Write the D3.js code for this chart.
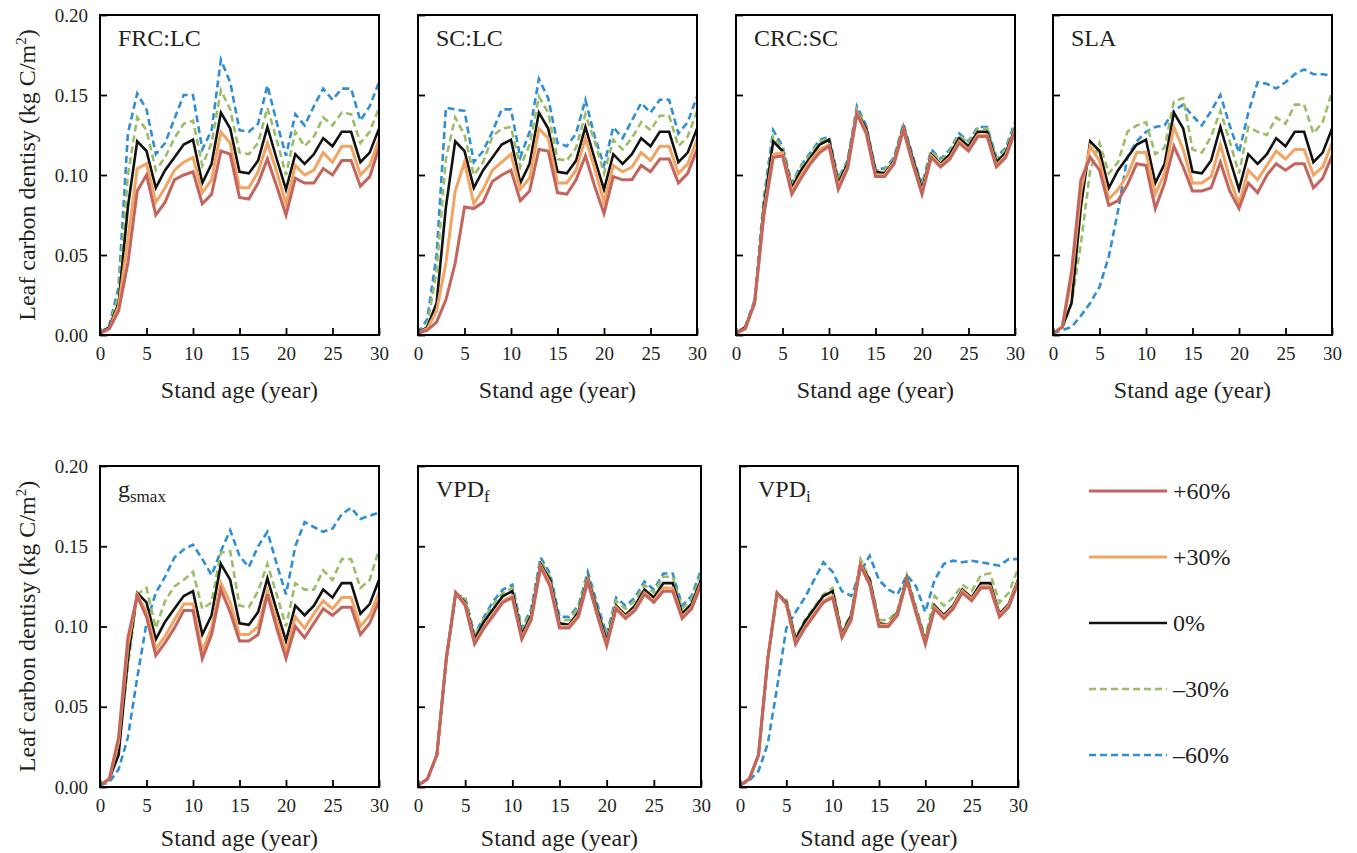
<!DOCTYPE html>
<html>
<head>
<meta charset="utf-8">
<script src="https://cdn.jsdelivr.net/npm/d3@7"></script>
<style>
  body { margin: 0; background: #fff; }
  svg { display: block; }
  text { font-family: "Liberation Serif", "Times New Roman", serif; fill: #231f20; }
</style>
</head>
<body>
<svg id="chart"></svg>
<script>
// Stand age (years 0..30)
const years = d3.range(0, 31);
const seriesLabels = ["+60%", "+30%", "0%", "\u201330%", "\u201360%"];
const yTicks = [0, 0.05, 0.10, 0.15, 0.20];
const xTicks = [0, 5, 10, 15, 20, 25, 30];

// 0% (baseline) run, shared by all panels
const base0 = [0.001,0.005,0.020,0.080,0.121,0.115,0.092,0.103,0.111,0.119,0.122,0.095,0.107,0.139,0.129,0.102,0.101,0.109,0.130,0.110,0.091,0.113,0.107,0.113,0.123,0.118,0.127,0.127,0.108,0.114,0.129];

// FRC:LC
const frcP60 = [0.001,0.004,0.015,0.045,0.090,0.100,0.075,0.083,0.097,0.100,0.102,0.082,0.088,0.115,0.113,0.086,0.085,0.095,0.110,0.093,0.075,0.098,0.095,0.095,0.104,0.100,0.109,0.109,0.093,0.099,0.117];
const frcP30 = [0.001,0.004,0.018,0.060,0.104,0.107,0.083,0.092,0.103,0.108,0.111,0.089,0.097,0.127,0.120,0.092,0.092,0.102,0.120,0.102,0.082,0.106,0.100,0.103,0.114,0.108,0.118,0.118,0.100,0.106,0.122];
const frcM30 = [0.001,0.005,0.025,0.100,0.136,0.128,0.103,0.111,0.123,0.132,0.134,0.106,0.120,0.153,0.141,0.114,0.113,0.120,0.142,0.122,0.100,0.127,0.118,0.124,0.136,0.131,0.139,0.138,0.120,0.127,0.142];
const frcM60 = [0.001,0.006,0.030,0.126,0.151,0.141,0.113,0.120,0.135,0.150,0.150,0.116,0.128,0.172,0.158,0.128,0.127,0.132,0.156,0.133,0.112,0.138,0.131,0.143,0.154,0.147,0.154,0.154,0.134,0.143,0.158];

// SC:LC
const scP60 = [0.001,0.003,0.008,0.022,0.045,0.080,0.079,0.083,0.096,0.100,0.103,0.084,0.090,0.116,0.115,0.089,0.088,0.097,0.112,0.093,0.076,0.099,0.097,0.097,0.106,0.102,0.110,0.110,0.095,0.101,0.116];
const scP30 = [0.001,0.004,0.015,0.045,0.090,0.108,0.082,0.091,0.103,0.108,0.113,0.091,0.098,0.129,0.123,0.095,0.095,0.103,0.123,0.104,0.083,0.106,0.102,0.105,0.114,0.109,0.118,0.118,0.101,0.107,0.122];
const scM30 = [0.001,0.006,0.040,0.110,0.136,0.125,0.100,0.108,0.124,0.129,0.130,0.105,0.119,0.149,0.139,0.110,0.109,0.117,0.138,0.121,0.101,0.122,0.116,0.123,0.133,0.128,0.137,0.137,0.118,0.124,0.140];
const scM60 = [0.001,0.010,0.050,0.142,0.141,0.140,0.108,0.115,0.127,0.141,0.141,0.111,0.127,0.160,0.148,0.120,0.118,0.126,0.147,0.124,0.106,0.130,0.123,0.134,0.145,0.139,0.147,0.147,0.126,0.133,0.149];

// CRC:SC
const crcP60 = [0.001,0.004,0.020,0.075,0.111,0.112,0.088,0.098,0.107,0.114,0.118,0.091,0.104,0.138,0.126,0.099,0.099,0.107,0.128,0.107,0.088,0.111,0.105,0.110,0.120,0.115,0.124,0.124,0.105,0.111,0.127];
const crcP30 = [0.001,0.004,0.020,0.077,0.113,0.114,0.090,0.100,0.109,0.116,0.119,0.093,0.105,0.139,0.127,0.100,0.100,0.108,0.129,0.108,0.089,0.112,0.106,0.111,0.121,0.116,0.125,0.125,0.106,0.112,0.128];
const crcM30 = [0.001,0.005,0.021,0.083,0.124,0.117,0.094,0.105,0.113,0.121,0.123,0.097,0.108,0.141,0.130,0.103,0.103,0.110,0.131,0.111,0.093,0.115,0.109,0.115,0.125,0.120,0.129,0.129,0.110,0.116,0.131];
const crcM60 = [0.001,0.005,0.022,0.086,0.128,0.118,0.095,0.106,0.114,0.122,0.124,0.098,0.109,0.143,0.131,0.104,0.104,0.111,0.132,0.112,0.094,0.116,0.110,0.116,0.126,0.121,0.130,0.130,0.111,0.117,0.133];

// SLA
const slaP60 = [0.001,0.005,0.040,0.097,0.111,0.103,0.081,0.084,0.094,0.107,0.106,0.079,0.095,0.118,0.105,0.090,0.090,0.092,0.108,0.090,0.079,0.095,0.089,0.100,0.107,0.103,0.107,0.107,0.092,0.098,0.112];
const slaP30 = [0.001,0.005,0.035,0.090,0.118,0.109,0.085,0.091,0.100,0.114,0.114,0.088,0.101,0.130,0.116,0.095,0.095,0.099,0.119,0.098,0.082,0.103,0.097,0.106,0.115,0.110,0.116,0.116,0.100,0.105,0.120];
const slaM30 = [0.001,0.004,0.020,0.057,0.103,0.120,0.101,0.108,0.127,0.131,0.133,0.113,0.117,0.146,0.148,0.116,0.114,0.124,0.140,0.121,0.101,0.130,0.127,0.125,0.136,0.132,0.144,0.144,0.126,0.133,0.152];
const slaM60 = [0.001,0.003,0.005,0.012,0.020,0.030,0.049,0.078,0.111,0.121,0.127,0.130,0.131,0.140,0.144,0.137,0.131,0.140,0.150,0.131,0.114,0.139,0.158,0.157,0.154,0.158,0.163,0.166,0.163,0.163,0.162];

// gsmax
const gsP60 = [0.001,0.005,0.031,0.093,0.119,0.106,0.082,0.090,0.099,0.110,0.110,0.080,0.095,0.123,0.109,0.091,0.091,0.095,0.120,0.099,0.080,0.100,0.093,0.102,0.111,0.107,0.112,0.112,0.095,0.102,0.116];
const gsP30 = [0.001,0.005,0.028,0.088,0.120,0.109,0.086,0.094,0.104,0.114,0.114,0.085,0.099,0.127,0.115,0.095,0.095,0.100,0.122,0.104,0.084,0.106,0.099,0.108,0.116,0.111,0.118,0.118,0.100,0.107,0.121];
const gsM30 = [0.001,0.004,0.025,0.075,0.120,0.124,0.099,0.116,0.125,0.129,0.134,0.111,0.115,0.146,0.147,0.113,0.112,0.122,0.139,0.120,0.100,0.127,0.123,0.123,0.135,0.129,0.142,0.142,0.124,0.129,0.148];
const gsM60 = [0.001,0.003,0.011,0.031,0.068,0.102,0.121,0.131,0.143,0.148,0.151,0.142,0.132,0.147,0.160,0.144,0.137,0.150,0.159,0.139,0.120,0.150,0.165,0.162,0.159,0.161,0.170,0.174,0.167,0.169,0.171];

// VPDf
const vpdfP60 = [0.001,0.005,0.020,0.080,0.121,0.113,0.089,0.099,0.107,0.115,0.118,0.092,0.104,0.137,0.125,0.099,0.099,0.106,0.128,0.107,0.088,0.111,0.105,0.110,0.120,0.115,0.122,0.122,0.105,0.111,0.126];
const vpdfP30 = [0.001,0.005,0.020,0.080,0.121,0.114,0.090,0.100,0.108,0.116,0.119,0.093,0.105,0.138,0.127,0.100,0.100,0.107,0.129,0.108,0.089,0.112,0.106,0.111,0.121,0.116,0.124,0.124,0.106,0.112,0.127];
const vpdfM30 = [0.001,0.005,0.020,0.080,0.121,0.117,0.094,0.105,0.114,0.121,0.124,0.098,0.109,0.141,0.131,0.104,0.104,0.112,0.132,0.112,0.093,0.116,0.111,0.116,0.126,0.121,0.131,0.131,0.111,0.117,0.132];
const vpdfM60 = [0.001,0.005,0.020,0.079,0.120,0.118,0.095,0.106,0.116,0.123,0.126,0.099,0.111,0.143,0.133,0.106,0.106,0.113,0.134,0.114,0.095,0.118,0.113,0.118,0.128,0.123,0.133,0.133,0.113,0.119,0.135];

// VPDi
const vpdiP60 = [0.001,0.005,0.020,0.080,0.121,0.114,0.089,0.099,0.107,0.115,0.118,0.093,0.104,0.138,0.126,0.100,0.100,0.107,0.129,0.108,0.089,0.111,0.105,0.111,0.121,0.116,0.124,0.124,0.106,0.112,0.127];
const vpdiP30 = [0.001,0.005,0.020,0.080,0.121,0.114,0.090,0.100,0.108,0.116,0.119,0.094,0.105,0.139,0.127,0.101,0.101,0.108,0.129,0.109,0.090,0.112,0.106,0.112,0.122,0.117,0.125,0.125,0.107,0.113,0.128];
const vpdiM30 = [0.001,0.005,0.020,0.079,0.120,0.117,0.093,0.104,0.112,0.120,0.124,0.097,0.108,0.142,0.130,0.104,0.104,0.110,0.132,0.112,0.093,0.119,0.113,0.118,0.126,0.122,0.132,0.133,0.115,0.121,0.136];
const vpdiM60 = [0.001,0.004,0.010,0.027,0.062,0.099,0.109,0.118,0.129,0.140,0.134,0.122,0.119,0.134,0.144,0.129,0.123,0.120,0.132,0.125,0.109,0.129,0.139,0.141,0.140,0.141,0.140,0.139,0.138,0.142,0.142];

// Panel definitions: title parts + series in legend order
const panels = [
  { title: "FRC:LC", sub: "", values: [frcP60, frcP30, base0, frcM30, frcM60] },
  { title: "SC:LC",  sub: "", values: [scP60, scP30, base0, scM30, scM60] },
  { title: "CRC:SC", sub: "", values: [crcP60, crcP30, base0, crcM30, crcM60] },
  { title: "SLA",    sub: "", values: [slaP60, slaP30, base0, slaM30, slaM60] },
  { title: "g",      sub: "smax", values: [gsP60, gsP30, base0, gsM30, gsM60] },
  { title: "VPD",    sub: "f", values: [vpdfP60, vpdfP30, base0, vpdfM30, vpdfM60] },
  { title: "VPD",    sub: "i", values: [vpdiP60, vpdiP30, base0, vpdiM30, vpdiM60] }
];

// Layout (pixel boxes of each plot area)
const boxes = [
  { x: 100, y: 15,  w: 279, h: 320, yLabels: true,  titleGap: 63 },
  { x: 418, y: 15,  w: 279, h: 320, yLabels: false, titleGap: 63 },
  { x: 736, y: 15,  w: 279, h: 320, yLabels: false, titleGap: 63 },
  { x: 1053, y: 15, w: 279, h: 320, yLabels: false, titleGap: 63 },
  { x: 100, y: 466, w: 279, h: 321, yLabels: true,  titleGap: 59 },
  { x: 418, y: 466, w: 283, h: 321, yLabels: false, titleGap: 59 },
  { x: 740, y: 466, w: 278, h: 321, yLabels: false, titleGap: 59 }
];

const styles = [
  { color: "#c4655d", dash: null, width: 3 },
  { color: "#f2a463", dash: null, width: 3 },
  { color: "#111111", dash: null, width: 2.6 },
  { color: "#9bbd67", dash: "7,4", width: 2.6 },
  { color: "#2f8fd2", dash: "7,4", width: 2.6 }
];

const svg = d3.select("#chart").attr("width", 1357).attr("height", 853);

panels.forEach((p, i) => {
  const b = boxes[i];
  const x = d3.scaleLinear().domain([0, 30]).range([0, b.w]);
  const y = d3.scaleLinear().domain([0, 0.2]).range([b.h, 0]);
  const g = svg.append("g").attr("transform", `translate(${b.x},${b.y})`);

  const line = d3.line()
    .x((d, k) => x(years[k]))
    .y(d => y(d));

  // draw -60% first so +60% sits on top
  for (let s = p.values.length - 1; s >= 0; s--) {
    const st = styles[s];
    g.append("path")
      .attr("d", line(p.values[s]))
      .attr("fill", "none")
      .attr("stroke", st.color)
      .attr("stroke-width", st.width)
      .attr("stroke-linejoin", "miter")
      .attr("stroke-dasharray", st.dash);
  }

  // Y axis (inner ticks)
  const ya = g.append("g")
    .call(d3.axisLeft(y).tickValues(yTicks).tickSize(-7).tickPadding(12)
      .tickFormat(b.yLabels ? d3.format(".2f") : ""));
  // X axis (inner ticks)
  const xa = g.append("g")
    .attr("transform", `translate(0,${b.h})`)
    .call(d3.axisBottom(x).tickValues(xTicks).tickSize(-7).tickPadding(12));
  [ya, xa].forEach(a => {
    a.select(".domain").remove();
    a.selectAll(".tick line").attr("stroke", "#000").attr("stroke-width", 1.8);
    a.selectAll(".tick text").attr("font-size", 19).attr("font-family", null).attr("fill", "#231f20");
  });

  // Frame
  g.append("rect")
    .attr("width", b.w).attr("height", b.h)
    .attr("fill", "none").attr("stroke", "#000").attr("stroke-width", 2);

  // Panel title
  const t = g.append("text").attr("x", 18).attr("y", 31).attr("font-size", 24).text(p.title);
  if (p.sub) {
    t.append("tspan").attr("font-size", 17).attr("dy", 5).text(p.sub);
  }

  // X axis title
  g.append("text")
    .attr("x", b.w / 2).attr("y", b.h + b.titleGap)
    .attr("text-anchor", "middle").attr("font-size", 24)
    .text("Stand age (year)");

  // Y axis title on first column
  if (b.yLabels) {
    const yt = svg.append("text")
      .attr("transform", `translate(35,${b.y + b.h / 2}) rotate(-90)`)
      .attr("text-anchor", "middle").attr("font-size", 24);
    yt.append("tspan").text("Leaf carbon dentisy (kg C/m");
    yt.append("tspan").attr("font-size", 15).attr("dy", -9).text("2");
    yt.append("tspan").attr("dy", 9).text(")");
  }
});

// Legend
const legend = svg.append("g").attr("transform", "translate(1089,491)");
seriesLabels.forEach((lab, s) => {
  const st = styles[s];
  const row = legend.append("g").attr("transform", `translate(0,${s * 66})`);
  row.append("line")
    .attr("x1", 0).attr("x2", 78).attr("y1", 0).attr("y2", 0)
    .attr("stroke", st.color).attr("stroke-width", st.width)
    .attr("stroke-dasharray", st.dash);
  row.append("text")
    .attr("x", 84).attr("y", 8).attr("font-size", 24)
    .text(lab);
});
</script>
</body>
</html>
